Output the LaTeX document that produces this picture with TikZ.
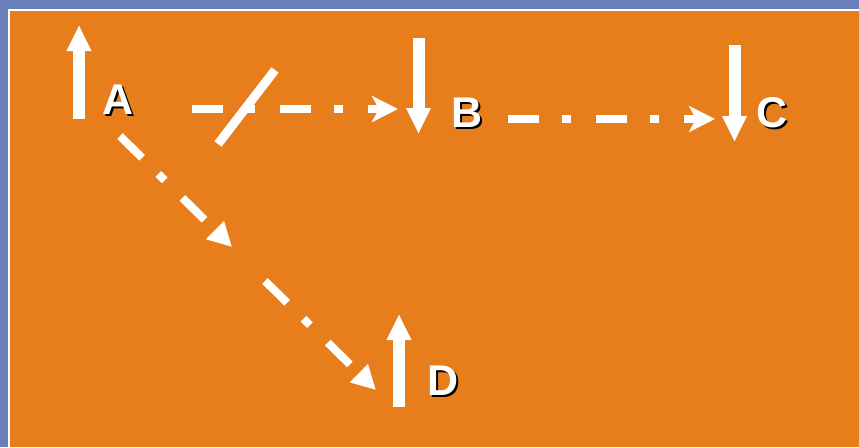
\documentclass[tikz,border=0pt]{standalone}
\usepackage{fontspec}
\setmainfont{Liberation Sans}
\usetikzlibrary{arrows.meta}
\definecolor{slideorange}{HTML}{E87D1C}
\definecolor{frameblue}{HTML}{6A7EB9}
\newcommand{\shadowed}[1]{\rlap{\kern2pt\raisebox{-2pt}{\textcolor{black}{#1}}}#1}
\tikzset{
  spin/.style={draw=white, line width=12pt, -{Triangle[width=23pt, length=26pt]}},
  link/.style={draw=white, line width=8pt, dash pattern=on 31pt off 23pt on 9pt off 25pt,
               -{Stealth[width=26pt, length=26pt, inset=7pt]}},
  diaglink/.style={link, -{Triangle[width=24pt, length=24pt]}},
  lbl/.style={text=white, font=\fontsize{43}{43}\selectfont\bfseries, inner sep=0pt}
}
\begin{document}
\begin{tikzpicture}[x=1pt, y=-1pt]
    \useasboundingbox (0,0) rectangle (859,447);
    \fill[frameblue] (0,0) rectangle (859,447);
    \fill[white] (8,9) rectangle (859,447);
    \fill[slideorange] (10,11) rectangle (859,447);

    \foreach \n/\x/\y in {A/118/101, B/467/114, C/772/114, D/443.5/382} {
        \node[lbl] (\n) at (\x,\y) {\shadowed{\n}};
    }

    \draw[spin] (79,119) -- (79,25);
    \draw[spin] (418.5,38) -- (418.5,134);
    \draw[spin] (734.5,45) -- (734.5,142);
    \draw[spin] (399,407) -- (399,314);

    \coordinate (ab1) at (192,109);
    \coordinate (ab2) at (398,109);
    \coordinate (bc1) at (508,119);
    \coordinate (bc2) at (715,119);
    \coordinate (ad1) at (120,136);
    \coordinate (ad2) at (232,247);
    \coordinate (ad3) at (265,281);
    \coordinate (ad4) at (376,390);

    \draw[link] (ab1) -- (ab2);
    \draw[link] (bc1) -- (bc2);
    \draw[diaglink] (ad1) -- (ad2);
    \draw[diaglink] (ad3) -- (ad4);
    \draw[white, line width=9pt] (275,70) -- (218,144);
\end{tikzpicture}
\end{document}
